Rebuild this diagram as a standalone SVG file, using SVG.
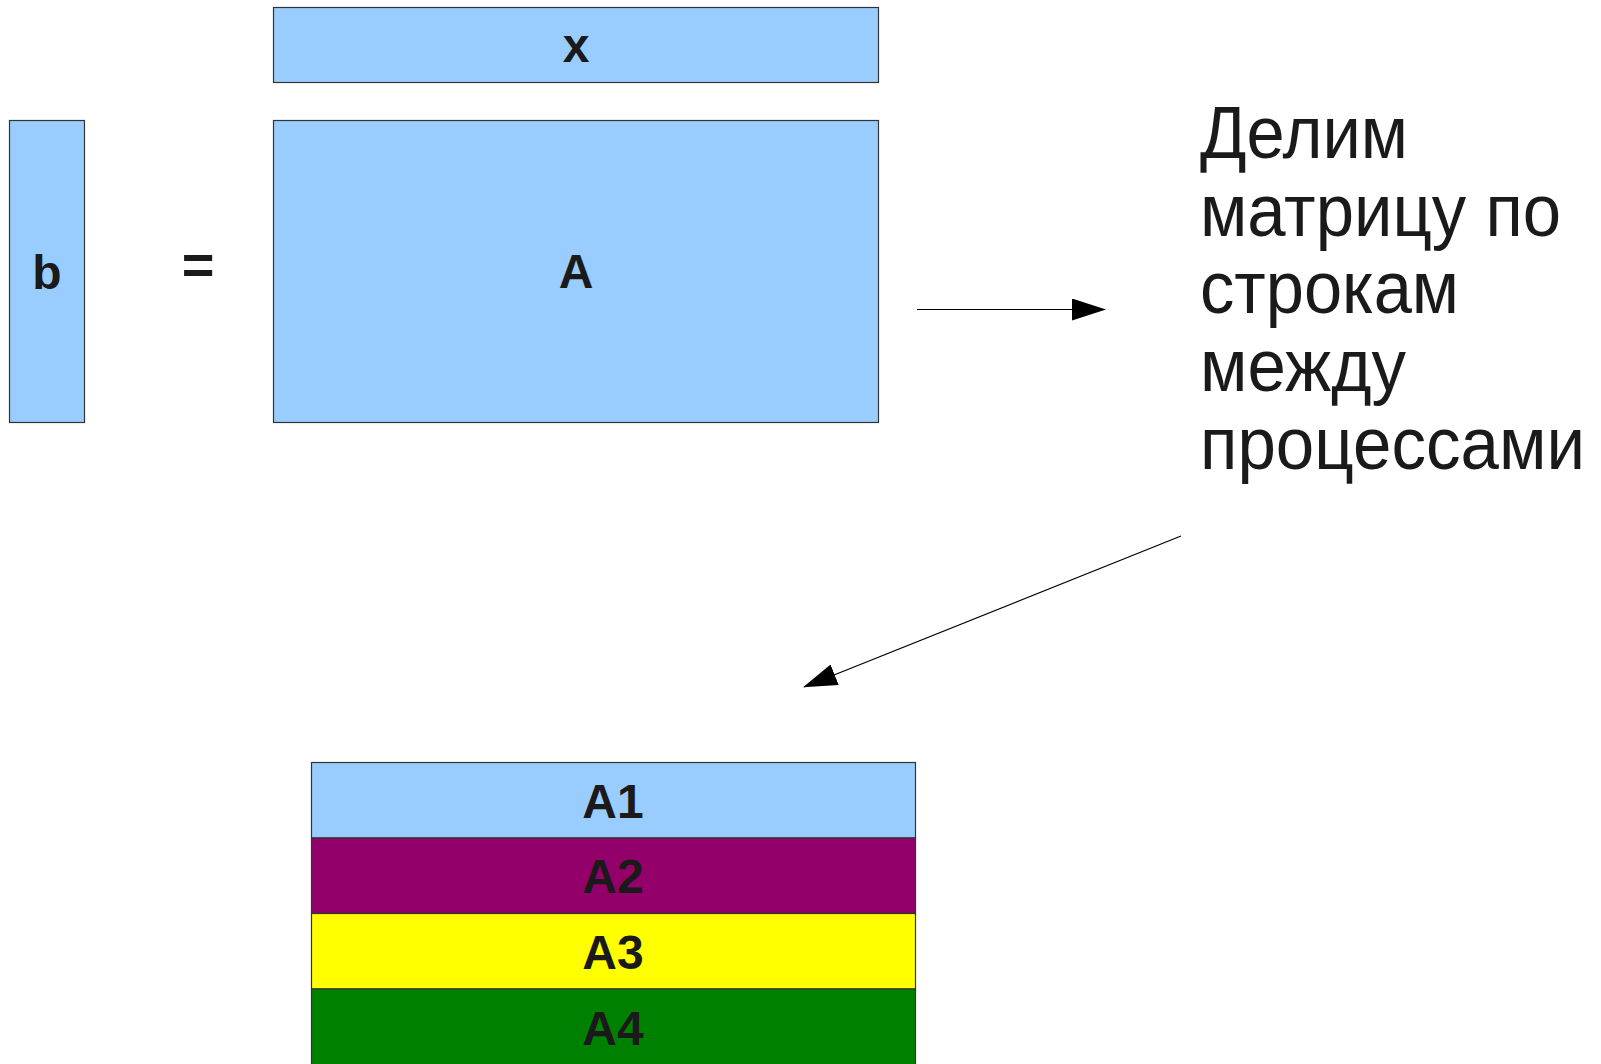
<svg xmlns="http://www.w3.org/2000/svg" width="1601" height="1064" viewBox="0 0 1601 1064">
<style>
.box{stroke:#333;stroke-width:1.2}
.lbl{font-family:"Liberation Sans",Arial,sans-serif;font-weight:bold;font-size:48px;fill:#1a1a1a;text-anchor:middle}
.txt{font-family:"Liberation Sans",Arial,sans-serif;font-size:75px;fill:#1a1a1a}
.conn{stroke:#000;stroke-width:1.2;fill:none}
</style>
<defs>
<marker id="ah" markerUnits="userSpaceOnUse" markerWidth="34" markerHeight="22" refX="33" refY="11" orient="auto" viewBox="0 0 34 22">
<path d="M0,0 L34,11 L0,22 Z" fill="#000"/>
</marker>
</defs>
<rect width="1601" height="1064" fill="#fff"/>
<g id="x">
<rect class="box" x="273.5" y="7.5" width="605" height="75" fill="#99ccff"/>
<text class="lbl" x="576" y="62">x</text>
</g>
<g id="b">
<rect class="box" x="9.5" y="120.5" width="75" height="302" fill="#99ccff"/>
<text class="lbl" x="47" y="289">b</text>
</g>
<g id="eq">
<text class="lbl" x="198" y="284" style="font-size:56px">=</text>
</g>
<g id="A">
<rect class="box" x="273.5" y="120.5" width="605" height="302" fill="#99ccff"/>
<text class="lbl" x="576" y="288">A</text>
</g>
<g id="caption">
<text class="txt" x="1200" y="158" textLength="208" lengthAdjust="spacingAndGlyphs">Делим</text>
<text class="txt" x="1200" y="236" textLength="361" lengthAdjust="spacingAndGlyphs">матрицу по</text>
<text class="txt" x="1200" y="313" textLength="259" lengthAdjust="spacingAndGlyphs">строкам</text>
<text class="txt" x="1200" y="391" textLength="206" lengthAdjust="spacingAndGlyphs">между</text>
<text class="txt" x="1200" y="469" textLength="385" lengthAdjust="spacingAndGlyphs">процессами</text>
</g>
<g id="A1">
<rect class="box" x="311.5" y="762.5" width="604" height="75.5" fill="#99ccff"/>
<text class="lbl" x="613" y="818">A1</text>
</g>
<g id="A2">
<rect class="box" x="311.5" y="838" width="604" height="75.5" fill="#94006a"/>
<text class="lbl" x="613" y="893">A2</text>
</g>
<g id="A3">
<rect class="box" x="311.5" y="913.5" width="604" height="75.5" fill="#ffff00"/>
<text class="lbl" x="613" y="969">A3</text>
</g>
<g id="A4">
<rect class="box" x="311.5" y="989" width="604" height="80" fill="#008000"/>
<text class="lbl" x="613" y="1045">A4</text>
</g>
<g id="connectors">
<line class="conn" x1="917" y1="309.5" x2="1105" y2="309.5" marker-end="url(#ah)"/>
<line class="conn" x1="1181" y1="536" x2="804" y2="687" marker-end="url(#ah)"/>
</g>
</svg>
